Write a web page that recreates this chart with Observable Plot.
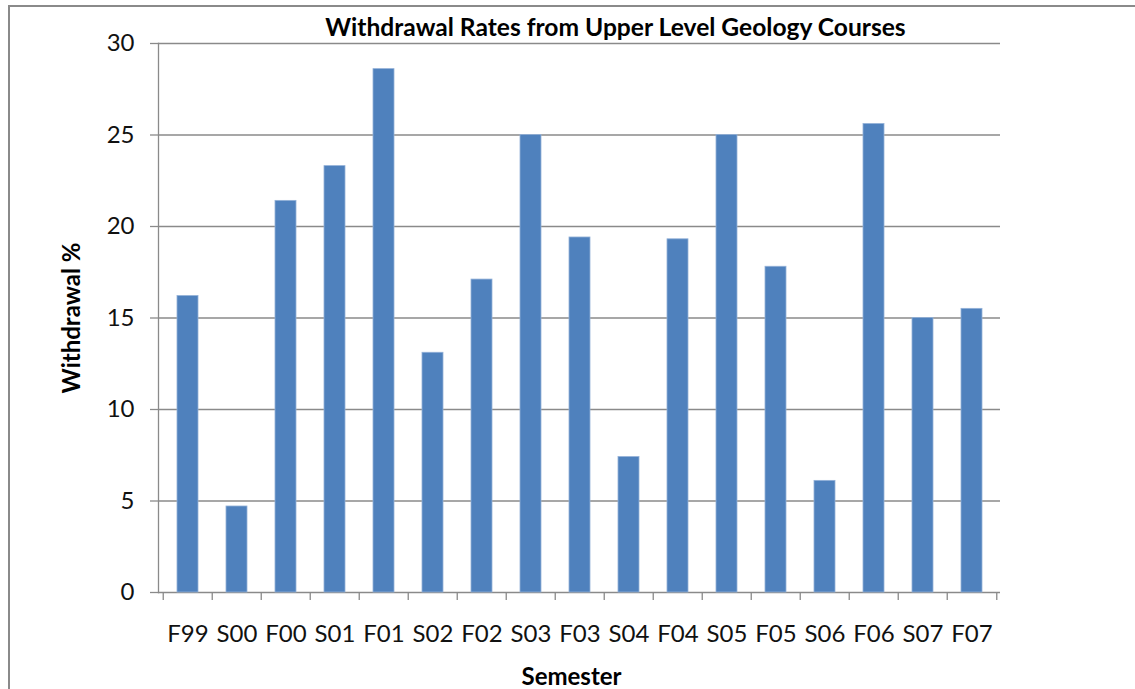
<!DOCTYPE html>
<html>
<head>
<meta charset="utf-8">
<script src="https://cdn.jsdelivr.net/npm/d3@7"></script>
<script src="https://cdn.jsdelivr.net/npm/@observablehq/plot@0.6"></script>
<style>
  html, body { margin: 0; padding: 0; background: #fff; }
  #wrap { position: relative; width: 1135px; height: 689px; overflow: hidden; }
  #border { position: absolute; left: 8px; top: 5px; right: -10px; bottom: -10px;
            border-left: 2px solid #8a8a8a; border-top: 2px solid #8a8a8a; pointer-events: none; }
</style>
</head>
<body>
<div id="wrap"><div id="chart"></div><div id="border"></div></div>
<script>
const semesters = ["F99","S00","F00","S01","F01","S02","F02","S03","F03","S04","F04","S05","F05","S06","F06","S07","F07"];
const withdrawal = [16.2, 4.7, 21.4, 23.3, 28.6, 13.1, 17.1, 25.0, 19.4, 7.4, 19.3, 25.0, 17.8, 6.1, 25.6, 15.0, 15.5];
const yTicks = [0, 5, 10, 15, 20, 25, 30];
const title = "Withdrawal Rates from Upper Level Geology Courses";
const xTitle = "Semester";
const yTitle = "Withdrawal %";

const data = semesters.map((s, i) => ({sem: s, val: withdrawal[i]}));

const W = 1135, H = 689;
const mL = 158, mR = 135, mT = 43, mB = 97;
const step = (W - mL - mR) / semesters.length;
const gray = "#8a8a8a";

const chart = Plot.plot({
  width: W,
  height: H,
  marginLeft: mL,
  marginRight: mR,
  marginTop: mT,
  marginBottom: mB,
  style: {fontFamily: "Lato, 'Open Sans', sans-serif", fontSize: "24px", color: "#111", background: "transparent", overflow: "visible"},
  x: {domain: semesters, paddingInner: 0.58, paddingOuter: 0.29, axis: null},
  y: {domain: [0, 30], axis: null},
  marks: [
    Plot.ruleY(yTicks, {stroke: gray, strokeWidth: 1.3}),
    Plot.frame({anchor: "left", stroke: gray, strokeWidth: 1.3}),
    Plot.axisY(yTicks, {tickSize: 8, tickPadding: 16, stroke: gray, strokeWidth: 1.3, fill: "#111", fontSize: 24, label: null, tickFormat: d => String(d)}),
    Plot.axisX(semesters, {tickSize: 8, text: null, dx: -step / 2, stroke: gray, strokeWidth: 1.3, label: null}),
    Plot.axisX([semesters[semesters.length - 1]], {tickSize: 8, text: null, dx: step / 2, stroke: gray, strokeWidth: 1.3, label: null}),
    Plot.axisX(semesters, {tickSize: 0, tickPadding: 32, fill: "#111", fontSize: 24, label: null}),
    Plot.barY(data, {x: "sem", y: "val", fill: "#4F81BD", stroke: "#93b1d8", strokeWidth: 0.8}),
    Plot.text([title], {frameAnchor: "top", dx: 36, dy: -15, fontWeight: "bold", fontSize: 24.6, fill: "#000", lineAnchor: "middle", textAnchor: "middle"}),
    Plot.text([yTitle], {frameAnchor: "left", dx: -86, rotate: -90, fontWeight: "bold", fontSize: 24, fill: "#000", lineAnchor: "middle", textAnchor: "middle"}),
    Plot.text([xTitle], {frameAnchor: "bottom", dx: -8, dy: 85, fontWeight: "bold", fontSize: 24, fill: "#000", lineAnchor: "middle", textAnchor: "middle"})
  ]
});
document.getElementById("chart").appendChild(chart);
</script>
</body>
</html>
